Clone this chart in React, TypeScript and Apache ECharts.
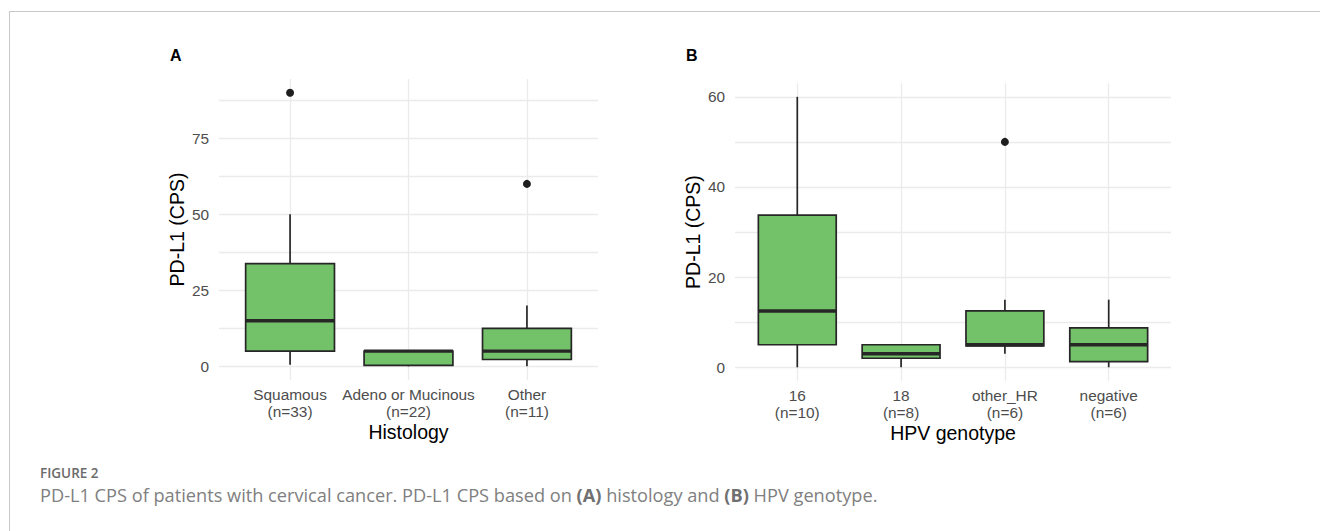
import React, { useEffect, useRef } from 'react';
import * as echarts from 'echarts';

// Panel A: histology
const categoriesA = ['Squamous', 'Adeno or Mucinous', 'Other'];
const countsA = [33, 22, 11];
const lowA = [0.5, 0, 0];
const q1A = [5, 0.3, 2.25];
const medianA = [15, 5, 5];
const q3A = [33.75, 5, 12.5];
const highA = [50, 5, 20];
const outlierCatA = [1, 3];
const outlierValA = [90, 60];
const labelTicksA = [0, 25, 50, 75];
const gridTicksA = [0, 12.5, 25, 37.5, 50, 62.5, 75, 87.5];

// Panel B: HPV genotype
const categoriesB = ['16', '18', 'other_HR', 'negative'];
const countsB = [10, 8, 6, 6];
const lowB = [0, 0, 3, 0];
const q1B = [5, 2, 4.75, 1.25];
const medianB = [12.5, 3, 5, 5];
const q3B = [33.75, 5, 12.5, 8.75];
const highB = [60, 5, 15, 15];
const outlierCatB = [3];
const outlierValB = [50];
const labelTicksB = [0, 20, 40, 60];
const gridTicksB = [0, 10, 20, 30, 40, 50, 60];

const FONT = '"Liberation Sans", Arial, Helvetica, sans-serif';
const CAP_FONT = '"Open Sans", "Noto Sans", sans-serif';
const GRID_COLOR = '#ebebeb';
const BOX_FILL = '#73C169';
const INK = '#262626';

const renderBox = (params: any, api: any) => {
  const x = api.value(0);
  const lo = api.coord([x, api.value(1)]);
  const q1 = api.coord([x, api.value(2)]);
  const md = api.coord([x, api.value(3)]);
  const q3 = api.coord([x, api.value(4)]);
  const hi = api.coord([x, api.value(5)]);
  const w = api.size([0.75, 0])[0];
  const cx = lo[0];
  const left = cx - w / 2;
  const lineStyle = { stroke: INK, lineWidth: 1.7 };
  return {
    type: 'group',
    children: [
      { type: 'line', shape: { x1: cx, y1: hi[1], x2: cx, y2: q3[1] }, style: lineStyle },
      { type: 'line', shape: { x1: cx, y1: q1[1], x2: cx, y2: lo[1] }, style: lineStyle },
      {
        type: 'rect',
        shape: { x: left, y: q3[1], width: w, height: q1[1] - q3[1] },
        style: { fill: BOX_FILL, stroke: INK, lineWidth: 1.7 },
      },
      { type: 'line', shape: { x1: left, y1: md[1], x2: left + w, y2: md[1] }, style: { stroke: INK, lineWidth: 3.4 } },
    ],
  };
};

function boxData(low: number[], q1: number[], med: number[], q3: number[], high: number[]) {
  return low.map((_, i) => [i + 1, low[i], q1[i], med[i], q3[i], high[i]]);
}

function xAxisFor(gridIndex: number, cats: string[], counts: number[], name: string) {
  const positions = cats.map((_, i) => i + 1);
  return {
    type: 'value',
    gridIndex,
    min: 0.4,
    max: cats.length + 0.6,
    name,
    nameLocation: 'middle',
    nameGap: 42,
    nameMoveOverlap: false,
    nameTextStyle: { fontSize: 19.5, color: '#000', fontFamily: FONT },
    axisLine: { show: false },
    axisTick: { show: false, customValues: positions },
    axisLabel: {
      customValues: positions,
      formatter: (v: number) => {
        const i = Math.round(v) - 1;
        return `${cats[i]}\n(n=${counts[i]})`;
      },
      fontSize: 15.4,
      lineHeight: 17,
      color: '#4d4d4d',
      margin: 6,
      fontFamily: FONT,
    },
    splitLine: { show: true, lineStyle: { color: GRID_COLOR, width: 1.3 } },
  };
}

function yAxisFor(gridIndex: number, min: number, max: number, labels: number[], grid: number[]) {
  return {
    type: 'value',
    gridIndex,
    min,
    max,
    name: 'PD-L1 (CPS)',
    nameLocation: 'middle',
    nameGap: 32,
    nameMoveOverlap: false,
    nameTextStyle: { fontSize: 19.5, color: '#000', fontFamily: FONT },
    axisLine: { show: false },
    axisTick: { show: false, customValues: grid },
    axisLabel: { customValues: labels, fontSize: 15.4, color: '#4d4d4d', margin: 10, fontFamily: FONT },
    splitLine: { show: true, lineStyle: { color: GRID_COLOR, width: 1.3 } },
  };
}

export default function App() {
  const ref = useRef<HTMLDivElement>(null);
  useEffect(() => {
    if (!ref.current) return;
    const chart = echarts.init(ref.current, undefined, { renderer: 'svg' });
    chart.setOption({
      animation: false,
      backgroundColor: '#ffffff',
      grid: [
        { left: 219, top: 79, width: 379, height: 301 },
        { left: 735, top: 83.3, width: 436, height: 297.5 },
      ],
      xAxis: [
        xAxisFor(0, categoriesA, countsA, 'Histology'),
        xAxisFor(1, categoriesB, countsB, 'HPV genotype'),
      ],
      yAxis: [
        yAxisFor(0, -4.5, 94.5, labelTicksA, gridTicksA),
        yAxisFor(1, -3, 63, labelTicksB, gridTicksB),
      ],
      series: [
        {
          type: 'custom',
          xAxisIndex: 0,
          yAxisIndex: 0,
          renderItem: renderBox,
          encode: { x: 0, y: [1, 2, 3, 4, 5] },
          data: boxData(lowA, q1A, medianA, q3A, highA),
          silent: true,
        },
        {
          type: 'scatter',
          xAxisIndex: 0,
          yAxisIndex: 0,
          symbolSize: 8,
          itemStyle: { color: '#1e1e1e', opacity: 1 },
          data: outlierCatA.map((c, i) => [c, outlierValA[i]]),
          silent: true,
        },
        {
          type: 'custom',
          xAxisIndex: 1,
          yAxisIndex: 1,
          renderItem: renderBox,
          encode: { x: 0, y: [1, 2, 3, 4, 5] },
          data: boxData(lowB, q1B, medianB, q3B, highB),
          silent: true,
        },
        {
          type: 'scatter',
          xAxisIndex: 1,
          yAxisIndex: 1,
          symbolSize: 8,
          itemStyle: { color: '#1e1e1e', opacity: 1 },
          data: outlierCatB.map((c, i) => [c, outlierValB[i]]),
          silent: true,
        },
      ],
      graphic: [
        { type: 'line', shape: { x1: 9, y1: 11.5, x2: 1320, y2: 11.5 }, style: { stroke: '#c8c8c8', lineWidth: 1 }, silent: true },
        { type: 'line', shape: { x1: 9.5, y1: 11, x2: 9.5, y2: 531 }, style: { stroke: '#c8c8c8', lineWidth: 1 }, silent: true },
        {
          type: 'text', left: 170, top: 47,
          style: { text: 'A', fontSize: 16, fontWeight: 'bold', fill: '#000', fontFamily: FONT },
        },
        {
          type: 'text', left: 686, top: 47,
          style: { text: 'B', fontSize: 16, fontWeight: 'bold', fill: '#000', fontFamily: FONT },
        },
        {
          type: 'text', left: 40, top: 466,
          style: { text: 'FIGURE 2', fontSize: 13.5, lineHeight: 13.5, fontWeight: 600, fill: '#6b6b6b', fontFamily: CAP_FONT },
        },
        {
          type: 'text', left: 40, top: 485,
          style: {
            text: 'PD-L1 CPS of patients with cervical cancer. PD-L1 CPS based on {b|(A)} histology and {b|(B)} HPV genotype.',
            fontSize: 18.2,
            lineHeight: 19,
            fill: '#808080',
            fontFamily: CAP_FONT,
            rich: { b: { fontSize: 18.2, lineHeight: 19, fontWeight: 'bold', fill: '#707070', fontFamily: CAP_FONT } },
          },
        },
      ],
    });
    return () => chart.dispose();
  }, []);
  return <div ref={ref} style={{ position: 'fixed', left: 0, top: 0, width: 1320, height: 531, background: '#fff' }} />;
}
